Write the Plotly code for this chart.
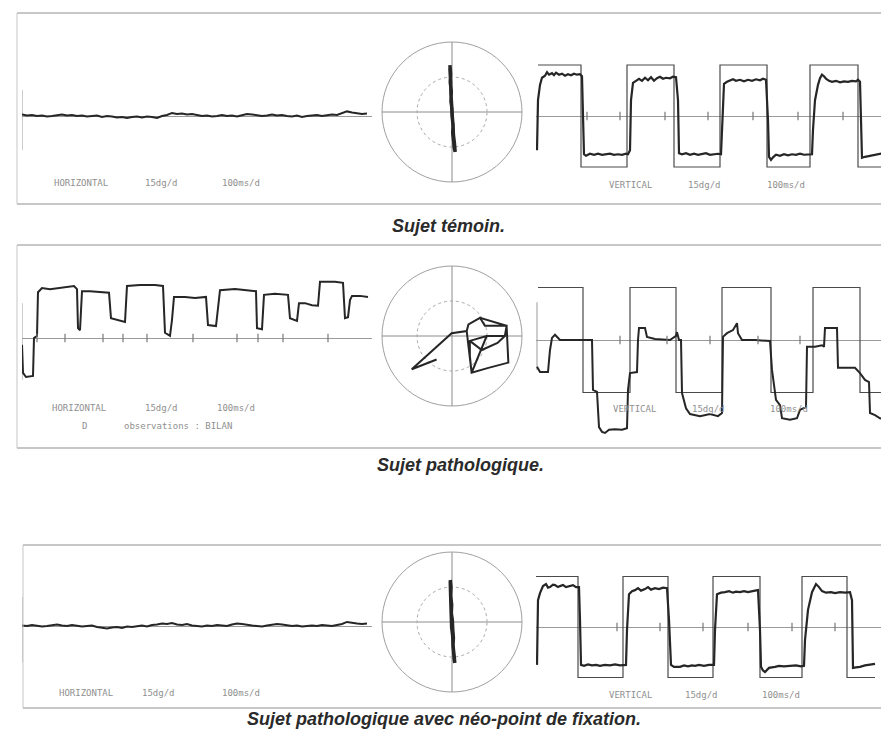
import numpy as np
import plotly.graph_objects as go

# page is rendered inside a default 8px body margin
OFF = 8
PAGE_W, PAGE_H = 889, 735
W, H = PAGE_W - OFF, PAGE_H - OFF

# ---------------- data (time in ms, position in degrees) ----------------
# Row 1 : "Sujet témoin."
h1_y = [0.3,0.1,0.2,0.0,0.1,-0.1,0.0,0.2,0.3,0.1,0.2,0.0,0.1,-0.1,0.0,0.1,-0.2,0.0,-0.1,-0.3,
        -0.2,-0.4,-0.2,-0.1,-0.3,-0.1,-0.2,-0.4,0.0,0.2,0.6,0.4,0.5,0.3,0.4,0.2,0.0,0.1,-0.1,0.0,
        0.2,0.0,0.1,-0.1,0.2,0.4,0.3,0.2,0.0,0.1,0.3,0.1,0.2,0.0,-0.1,0.1,-0.2,0.0,0.1,0.2,
        0.0,0.1,0.3,0.2,0.5,0.9,0.7,0.6,0.4,0.5]
c1_x = [-0.6,-0.4,-0.5,-0.2,-0.3,0.0,0.1,0.3,0.2,0.5,0.6,0.9,0.7,0.4,0.3,0.0,-0.1,-0.3,-0.4,-0.6]
c1_y = [13.4,11.0,8.5,6.0,3.0,1.0,-1.5,-4.0,-6.0,-8.5,-10.0,-11.4,-9.0,-6.5,-3.5,-1.0,2.0,5.0,9.0,12.5]
tg1_t = [20, 450, 910, 1380, 1840, 2310, 2740, 3220, 3470]
tg1_y = [10, -10, 10, -10, 10, -10, 10, -10, -10]
v1_t = [10,20,40,60,90,110,130,160,180,200,
        230,260,290,320,350,380,410,440,460,470,
        480,500,540,580,620,660,700,740,780,820,
        860,900,920,940,950,970,1000,1030,1060,1090,
        1120,1150,1180,1210,1240,1270,1300,1340,1370,1400,
        1420,1430,1460,1500,1540,1580,1620,1660,1700,1740,
        1780,1820,1850,1860,1880,1910,1940,1970,2000,2040,
        2080,2120,2160,2200,2240,2270,2300,2320,2330,2350,
        2370,2400,2440,2480,2520,2560,2600,2640,2680,2720,
        2760,2770,2790,2820,2840,2860,2880,2900,2930,2960,
        3000,3040,3080,3120,3160,3200,3220,3240,3250,3260,
        3290,3320,3360,3400,3440,3470,3490]
v1_y = [-6.7,3.1,6.1,7.5,7.9,8.6,8.1,8.4,8.0,8.5,
        8.1,8.3,7.9,8.2,8.0,8.3,8.1,8.2,7.8,-0.8,
        -7.5,-7.8,-7.4,-7.6,-7.4,-7.6,-7.5,-7.4,-7.6,-7.5,
        -7.6,-7.4,-7.5,-6.7,3.1,6.5,6.9,7.3,6.9,7.5,
        7.0,7.6,6.9,7.4,7.7,7.3,7.5,7.4,7.7,7.6,
        3.1,-7.3,-7.5,-7.3,-7.6,-7.4,-7.6,-7.5,-7.3,-7.6,
        -7.5,-7.4,-7.5,-2.7,6.3,6.7,6.9,7.2,6.9,7.1,
        6.8,7.1,6.9,7.2,7.0,7.3,7.1,-0.8,-8.0,-8.6,
        -8.1,-7.6,-7.8,-7.5,-7.7,-7.5,-7.6,-7.4,-7.6,-7.5,
        -7.5,-2.7,3.1,6.1,7.4,8.1,7.8,7.3,6.9,6.7,
        6.9,6.6,6.8,6.7,6.9,6.8,7.1,6.7,-0.8,-8.2,
        -8.0,-7.9,-7.7,-7.6,-7.4,-7.3,-7.2]
ticks1 = [510, 840, 1290, 1720, 2170, 2620, 3070]

# Row 2 : "Sujet pathologique."
h2_t = [0,10,40,110,120,150,160,200,280,380,480,520,550,560,580,600,680,780,870,890,
        960,1030,1050,1180,1330,1410,1430,1480,1500,1520,1630,1730,1840,1860,1940,1960,1980,2130,2230,2340,
        2350,2400,2420,2530,2660,2680,2750,2770,2830,2900,2960,2980,3130,3210,3230,3260,3280,3300,3380,3460]
h2_y = [-1.3,-6.7,-7.5,-7.3,0.0,0.4,8.8,9.6,9.4,9.6,9.8,10.0,9.4,1.9,1.5,9.0,9.0,8.8,8.7,3.8,
        3.5,3.1,10.0,10.2,10.2,10.0,1.0,0.4,3.5,7.9,7.9,7.7,7.9,2.5,2.3,5.4,9.2,9.4,9.2,9.0,
        1.9,1.7,8.3,8.5,8.3,3.8,3.3,6.7,6.7,6.3,6.2,10.8,10.8,10.6,3.8,4.0,7.3,8.1,8.1,7.9]
ticks2h = [150, 430, 810, 1010, 1250, 1710, 2150, 2360, 2610, 3060]
c2_x = [-4.4,-11.5,-0.1,4.2,4.7,8.0,9.4,15.6,15.1,9.9,5.1,5.1,5.6,10.4,16.1,15.6,8.0,4.7,4.2,5.6,9.9,15.1,13.0,8.5,5.1]
c2_y = [-6.7,-9.5,0.8,1.4,3.3,5.2,2.9,2.9,0.0,0.0,-1.4,-5.7,-10.5,-9.1,-7.6,2.9,5.2,3.3,1.4,-10.5,0.0,0.0,-2.0,-4.0,-1.4]
tg2_t = [20, 470, 940, 1400, 1860, 2350, 2770, 3240, 3510]
tg2_y = [10, -10, 10, -10, 10, -10, 10, -10, -10]
v2_t = [10,40,120,140,160,190,240,390,560,570,610,630,660,690,730,790,860,910,920,940,
        1010,1020,1030,1090,1110,1190,1340,1400,1410,1430,1450,1460,1500,1540,1640,1740,1820,1860,1870,1910,
        1970,2010,2020,2060,2190,2340,2360,2400,2440,2460,2540,2610,2640,2700,2710,2790,2860,2880,2890,3010,
        3020,3190,3240,3290,3330,3340,3390,3440,3510]
v2_y = [-5.1,-6.1,-6.1,-1.9,0.4,1.0,0.0,0.0,0.0,-9.5,-9.9,-16.6,-17.5,-17.7,-17.1,-17.0,-17.1,-16.8,-9.5,-6.3,
        -6.1,0.0,2.3,2.3,0.6,0.2,0.0,0.8,1.5,0.0,0.0,-10.1,-13.0,-14.1,-14.5,-14.1,-14.5,-13.9,0.6,1.3,
        1.9,3.2,1.3,0.0,0.0,-0.2,-5.7,-11.4,-12.4,-14.9,-15.2,-14.9,-13.3,-12.8,-1.3,-1.3,-1.0,-1.3,2.3,2.3,
        -5.3,-5.3,-6.3,-7.6,-8.0,-13.9,-14.3,-14.9,-15.2]
ticks2v = [840, 1310, 1740, 2220, 2640]

# Row 3 : "Sujet pathologique avec néo-point de fixation."
h3_y = [0.1,0.0,0.2,0.1,-0.1,0.0,0.1,0.3,0.1,0.0,0.2,0.1,-0.1,0.0,0.1,-0.2,-0.3,-0.5,-0.3,-0.2,
        -0.4,-0.1,-0.2,0.0,0.1,-0.1,0.2,0.3,0.5,0.4,0.6,0.3,0.2,0.4,0.1,0.0,-0.1,0.1,0.0,0.2,
        0.1,0.0,0.3,0.5,0.4,0.2,0.1,0.0,-0.1,0.1,0.2,0.4,0.3,0.1,0.0,0.1,-0.1,0.0,0.1,0.0,
        0.2,0.1,0.0,0.2,0.4,0.8,0.6,0.5,0.4,0.5]
c3_x = [-0.5,-0.3,-0.4,-0.1,-0.2,0.1,0.2,0.4,0.3,0.5,0.6,0.8,0.6,0.3,0.2,-0.1,-0.2,-0.3,-0.4,-0.5]
c3_y = [12.0,10.0,7.5,5.0,2.5,0.5,-2.0,-4.5,-6.5,-9.0,-10.5,-11.7,-9.5,-7.0,-4.0,-1.5,1.5,4.5,8.0,11.5]
tg3_t = [0, 420, 870, 1320, 1770, 2240, 2660, 3110, 3390]
tg3_y = [10, -10, 10, -10, 10, -10, 10, -10, -10]
v3_t = [10,20,40,70,100,120,140,170,190,220,
        240,270,300,340,370,400,430,440,450,480,
        520,560,600,640,690,740,790,840,900,910,
        930,960,990,1020,1050,1090,1120,1150,1190,1230,
        1270,1310,1330,1350,1380,1440,1480,1520,1560,1590,
        1630,1680,1730,1780,1790,1810,1850,1890,1930,1970,
        2000,2040,2080,2120,2160,2190,2220,2240,2250,2270,
        2290,2330,2390,2430,2480,2540,2600,2650,2680,2690,
        2720,2760,2780,2800,2830,2860,2900,2950,2990,3040,
        3090,3140,3160,3170,3200,3240,3290,3340,3390]
v3_y = [-7.5,5.3,6.7,8.1,8.5,7.8,7.9,8.4,8.3,7.9,
        8.1,8.3,7.9,8.1,8.3,7.9,7.9,1.4,-7.5,-7.7,
        -7.4,-7.6,-7.5,-7.7,-7.5,-7.6,-7.4,-7.6,-7.5,-0.6,
        6.5,7.1,7.3,7.7,7.2,7.5,7.9,7.4,7.7,7.5,
        7.8,7.7,1.4,-7.5,-7.9,-7.9,-7.6,-7.8,-7.6,-7.7,
        -7.5,-7.7,-7.5,-7.5,-0.6,6.5,6.8,6.9,7.1,6.8,
        7.0,6.9,7.1,6.9,7.0,7.2,7.3,-0.6,-7.9,-8.6,
        -8.9,-8.1,-7.9,-7.7,-7.8,-7.7,-7.6,-7.8,-7.7,-2.6,
        3.4,6.9,7.8,8.5,7.9,7.1,6.8,6.9,6.7,6.9,
        6.8,6.9,5.3,-8.1,-8.0,-7.9,-7.6,-7.5,-7.3]
ticks3 = [810, 1240, 1670, 2120, 2560, 2990]

# small vertical scale bars at start of traces (deg)
bar1 = [5.1, -6.7]
bar2h = [6.7, -8.1]
bar2v = [7.2, -5.7]
bar3 = [5.7, -7.1]

sample_ms = 50
captions = ["Sujet témoin.", "Sujet pathologique.",
            "Sujet pathologique avec néo-point de fixation."]


# ---------------- layout helpers (page pixels -> paper fractions) ----------------
def fx(p):
    return (p - OFF) / W


def fy(p):
    return 1 - (p - OFF) / H


EYE = "#262626"
TGT = "#4a4a4a"
AX = "#9a9a9a"

fig = go.Figure()

panels = {
    1: dict(x=(22, 372), t=(0, 3500), yc=116, s=5.1, half=45),
    2: dict(x=(536, 889), t=(0, 3530), yc=116, s=5.1, half=70),
    3: dict(x=(22, 372), t=(0, 3500), yc=338, s=5.2, half=60),
    4: dict(x=(536, 889), t=(0, 3530), yc=340, s=5.25, half=105),
    5: dict(x=(22, 372), t=(0, 3500), yc=626, s=5.1, half=45),
    6: dict(x=(536, 889), t=(0, 3530), yc=627, s=5.05, half=65),
}
layout_axes = {}
for k, p in panels.items():
    sx = "" if k == 1 else str(k)
    layout_axes["xaxis" + sx] = dict(
        domain=[fx(p["x"][0]), fx(p["x"][1])], range=list(p["t"]),
        anchor="y" + sx, showgrid=False, zeroline=False,
        showticklabels=False, ticks="", showline=False, fixedrange=True)
    hr = p["half"] / p["s"]
    layout_axes["yaxis" + sx] = dict(
        domain=[fy(p["yc"] + p["half"]), fy(p["yc"] - p["half"])],
        range=[-hr, hr], anchor="x" + sx, showgrid=False, zeroline=True,
        zerolinecolor=AX, zerolinewidth=1, showticklabels=False, ticks="",
        showline=False, fixedrange=True)


def add_line(k, x, y, color, width, shape="linear"):
    sx = "" if k == 1 else str(k)
    fig.add_trace(go.Scatter(x=x, y=y, mode="lines", xaxis="x" + sx, yaxis="y" + sx,
                             line=dict(color=color, width=width, shape=shape),
                             hoverinfo="skip", showlegend=False))


def add_ticks(k, ts):
    sx = "" if k == 1 else str(k)
    fig.add_trace(go.Scatter(x=ts, y=[0] * len(ts), mode="markers", xaxis="x" + sx, yaxis="y" + sx,
                             marker=dict(symbol="line-ns", size=6, line=dict(color="#777", width=1.2)),
                             hoverinfo="skip", showlegend=False))


# Row 1
t1 = list(np.arange(len(h1_y)) * sample_ms)
add_line(1, [0, 0], bar1, AX, 1)
add_line(1, t1, h1_y, EYE, 2.0)
add_line(2, tg1_t, tg1_y, TGT, 1.2, shape="hv")
add_line(2, v1_t, v1_y, EYE, 2.2)
add_ticks(2, ticks1)

# Row 2
add_line(3, [0, 0], bar2h, AX, 1)
add_line(3, h2_t, h2_y, EYE, 2.0)
add_ticks(3, ticks2h)
add_line(4, [10, 10], bar2v, AX, 1)
add_line(4, tg2_t, tg2_y, TGT, 1.2, shape="hv")
add_line(4, v2_t, v2_y, EYE, 2.0)
add_ticks(4, ticks2v)

# Row 3
t3 = list(np.arange(len(h3_y)) * sample_ms)
add_line(5, [0, 0], bar3, AX, 1)
add_line(5, t3, h3_y, EYE, 2.0)
add_line(6, tg3_t, tg3_y, TGT, 1.2, shape="hv")
add_line(6, v3_t, v3_y, EYE, 2.2)
add_ticks(6, ticks3)

# polar (target) plots
centers = [112, 336, 622]
circ_data = [(c1_x, c1_y, 3.5), (c2_x, c2_y, 2.0), (c3_x, c3_y, 3.5)]
R = 70
for i, (cy, (cx_, cy_, lw)) in enumerate(zip(centers, circ_data)):
    name = "polar" if i == 0 else "polar%d" % (i + 1)
    xs = np.array(cx_, dtype=float)
    ys = np.array(cy_, dtype=float)
    r = np.hypot(xs, ys)
    th = np.degrees(np.arctan2(ys, xs))
    fig.add_trace(go.Scatterpolar(r=r, theta=th, mode="lines", subplot=name,
                                  line=dict(color=EYE, width=lw), hoverinfo="skip",
                                  showlegend=False))
    layout_axes[name] = dict(
        domain=dict(x=[fx(452 - R), fx(452 + R)], y=[fy(cy + R), fy(cy - R)]),
        bgcolor="rgba(0,0,0,0)",
        radialaxis=dict(range=[0, 20], tickvals=[10], showticklabels=False, ticks="",
                        showline=False, gridcolor="#a8a8a8", griddash="dot", gridwidth=1),
        angularaxis=dict(tickvals=[0, 90, 180, 270], showticklabels=False, ticks="",
                         showline=True, linecolor="#a0a0a0", linewidth=1,
                         gridcolor="#8c8c8c", gridwidth=1),
    )

# frames around each row
shapes = []
frames = [(17, 13, 204), (17, 245, 448), (23, 545, 708)]
for (lx, top, bot) in frames:
    for yy in (top, bot):
        shapes.append(dict(type="line", xref="paper", yref="paper",
                           x0=fx(lx), x1=1.0, y0=fy(yy), y1=fy(yy),
                           line=dict(color="#b5b5b5", width=1.3)))
    shapes.append(dict(type="line", xref="paper", yref="paper",
                       x0=fx(lx), x1=fx(lx), y0=fy(top), y1=fy(bot),
                       line=dict(color="#c5c5c5", width=1)))

# instrument labels
labels = [
    ("HORIZONTAL", 52, 183), ("15dg/d", 143, 183), ("100ms/d", 220, 183),
    ("VERTICAL", 607, 185), ("15dg/d", 686, 185), ("100ms/d", 765, 185),
    ("HORIZONTAL", 50, 408), ("15dg/d", 143, 408), ("100ms/d", 215, 408),
    ("D", 80, 426), ("observations : BILAN", 122, 426),
    ("VERTICAL", 611, 409), ("15dg/d", 690, 409), ("100ms/d", 768, 409),
    ("HORIZONTAL", 57, 693), ("15dg/d", 140, 693), ("100ms/d", 220, 693),
    ("VERTICAL", 607, 695), ("15dg/d", 683, 695), ("100ms/d", 760, 695),
]
annotations = []
for txt, x, y in labels:
    annotations.append(dict(text=txt, x=fx(x), y=fy(y), xref="paper", yref="paper",
                            xanchor="left", yanchor="middle", showarrow=False,
                            font=dict(family="DejaVu Sans Mono", size=9, color="#8f8f8f")))

cap_pos = [(448, 226), (460, 465), (444, 719)]
for txt, (x, y) in zip(captions, cap_pos):
    annotations.append(dict(text="<b><i>%s</i></b>" % txt, x=fx(x), y=fy(y),
                            xref="paper", yref="paper", xanchor="center", yanchor="middle",
                            showarrow=False,
                            font=dict(family="Liberation Sans, Arial", size=18, color="#2a2a2a")))

fig.update_layout(
    width=W, height=H, autosize=False,
    margin=dict(l=0, r=0, t=0, b=0),
    paper_bgcolor="white", plot_bgcolor="rgba(0,0,0,0)",
    showlegend=False, shapes=shapes, annotations=annotations,
    **layout_axes,
)

fig.write_html("out.html")
